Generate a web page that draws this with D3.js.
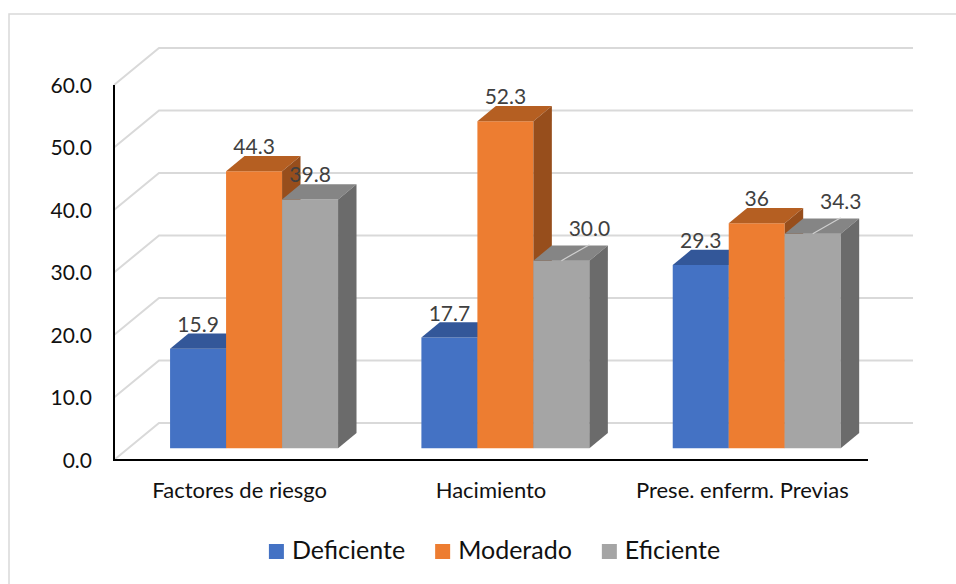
<!DOCTYPE html>
<html><head><meta charset="utf-8">
<script src="https://cdn.jsdelivr.net/npm/d3@7"></script>
<style>body{margin:0;background:#fff}svg{display:block}</style>
</head><body>
<script>
// ---- data ----
const categories = ["Factores de riesgo", "Hacimiento", "Prese. enferm. Previas"];
const seriesNames = ["Deficiente", "Moderado", "Eficiente"];
const deficiente = [15.9, 17.7, 29.3];
const moderado = [44.3, 52.3, 36];
const eficiente = [39.8, 30.0, 34.3];
const deficienteLabels = ["15.9", "17.7", "29.3"];
const moderadoLabels = ["44.3", "52.3", "36"];
const eficienteLabels = ["39.8", "30.0", "34.3"];
const yTicks = [0, 10, 20, 30, 40, 50, 60];
// labels that Excel moved aside with a leader line
const leaderLabeled = ["Hacimiento|Eficiente", "Prese. enferm. Previas|Eficiente"];

// ---- style ----
const W = 956, H = 584;
const FONT = "Lato, 'Open Sans', sans-serif";
const faceColors = {
  Deficiente: {front: "#4472C4", top: "#335799", side: "#2b4a83"},
  Moderado:   {front: "#ED7D31", top: "#B55F22", side: "#974E1C"},
  Eficiente:  {front: "#A5A5A5", top: "#858585", side: "#6B6B6B"}
};
const DEPTH = {dx: 45, dy: -37};      // full floor depth (oblique)
const BAR_Z0 = 0.32, BAR_Z1 = 0.73;   // bar depth range
const BAR_W = 56;

const seriesData = [
  {name: "Deficiente", values: deficiente, labels: deficienteLabels},
  {name: "Moderado", values: moderado, labels: moderadoLabels},
  {name: "Eficiente", values: eficiente, labels: eficienteLabels}
];

const svg = d3.select("body").append("svg").attr("width", W).attr("height", H);

// outer border
svg.append("rect").attr("x", 9).attr("y", 14).attr("width", 980).attr("height", 620)
  .attr("fill", "none").attr("stroke", "#d9d9d9").attr("stroke-width", 1.5);

const y = d3.scaleLinear().domain([0, 60]).range([460, 85]);
const x = d3.scaleBand().domain(categories).range([114, 868]);
const s = d3.scaleBand().domain(seriesNames).range([-BAR_W * 1.5, BAR_W * 1.5]);
const proj = (px, py, z) => [px + z * DEPTH.dx, py + z * DEPTH.dy];

// gridlines: back wall + left wall
const grid = svg.append("g").attr("stroke", "#d9d9d9").attr("stroke-width", 2).attr("fill", "none");
yTicks.forEach(t => {
  const f = [x.range()[0], y(t)];
  const b = proj(f[0], f[1], 1);
  const be = proj(x.range()[1], y(t), 1);
  grid.append("path").attr("d", d3.line()([f, b, be]));
});

// bars
const bars = svg.append("g");
categories.forEach((cat, ci) => {
  seriesData.forEach(sd => {
    const v = sd.values[ci];
    const c = faceColors[sd.name];
    const left = x(cat) + x.bandwidth() / 2 + s(sd.name);
    const right = left + s.bandwidth();
    const fl = proj(left, y(v), BAR_Z0), fr = proj(right, y(v), BAR_Z0);
    const bl0 = proj(left, y(0), BAR_Z0), br0 = proj(right, y(0), BAR_Z0);
    const tl = proj(left, y(v), BAR_Z1), tr = proj(right, y(v), BAR_Z1);
    const sb = proj(right, y(0), BAR_Z1);
    const poly = pts => d3.line()(pts) + "Z";
    bars.append("path").attr("d", poly([fl, fr, br0, bl0])).attr("fill", c.front);
    bars.append("path").attr("d", poly([fl, fr, tr, tl])).attr("fill", c.top);
    bars.append("path").attr("d", poly([fr, tr, sb, br0])).attr("fill", c.side);
  });
});

// data labels
const lbl = svg.append("g").attr("font-family", FONT).attr("font-size", 21)
  .attr("fill", "#404040").attr("text-anchor", "middle");
categories.forEach((cat, ci) => {
  seriesData.forEach(sd => {
    const v = sd.values[ci];
    const cx = x(cat) + x.bandwidth() / 2 + s(sd.name) + s.bandwidth() / 2;
    const [fx, fy] = proj(cx, y(v), BAR_Z0);
    if (leaderLabeled.includes(cat + "|" + sd.name)) {
      svg.append("line").attr("x1", fx).attr("y1", fy).attr("x2", fx + 28).attr("y2", fy - 16)
        .attr("stroke", "#d0d0d0").attr("stroke-width", 1.2);
      lbl.append("text").attr("x", fx + 28).attr("y", fy - 25).text(sd.labels[ci]);
    } else {
      lbl.append("text").attr("x", fx).attr("y", fy - 17).text(sd.labels[ci]);
    }
  });
});

// axes lines
svg.append("line").attr("x1", x.range()[0]).attr("x2", x.range()[0])
  .attr("y1", y(60)).attr("y2", y(0)).attr("stroke", "#000").attr("stroke-width", 2);
svg.append("line").attr("x1", x.range()[0] - 1).attr("x2", x.range()[1])
  .attr("y1", y(0)).attr("y2", y(0)).attr("stroke", "#000").attr("stroke-width", 2);

// y tick labels
const yAxis = svg.append("g").attr("transform", `translate(${x.range()[0]},0)`)
  .call(d3.axisLeft(y).tickValues(yTicks).tickFormat(d3.format(".1f")).tickSize(0).tickPadding(22));
yAxis.select(".domain").remove();
yAxis.selectAll("text").attr("font-family", FONT).attr("font-size", 21).attr("fill", "#111")
  .attr("dy", "0.35em");

// category labels
const xAxis = svg.append("g").attr("transform", `translate(0,${y(0)})`)
  .call(d3.axisBottom(x).tickSize(0).tickPadding(22));
xAxis.select(".domain").remove();
xAxis.selectAll("text").attr("font-family", FONT).attr("font-size", 22).attr("fill", "#111");

// legend
const legend = svg.append("g").attr("font-family", FONT).attr("font-size", 25).attr("fill", "#111");
let lx = 0;
seriesNames.forEach(n => {
  const g = legend.append("g");
  g.append("rect").attr("x", 0).attr("y", -15).attr("width", 15).attr("height", 15)
    .attr("fill", faceColors[n].front);
  const t = g.append("text").attr("x", 23).attr("y", 0).text(n);
  const w = 23 + t.node().getComputedTextLength();
  g.attr("transform", `translate(${lx},0)`);
  lx += w + 30;
});
lx -= 30;
legend.attr("transform", `translate(${494.5 - lx / 2},559)`);
</script>
</body></html>
